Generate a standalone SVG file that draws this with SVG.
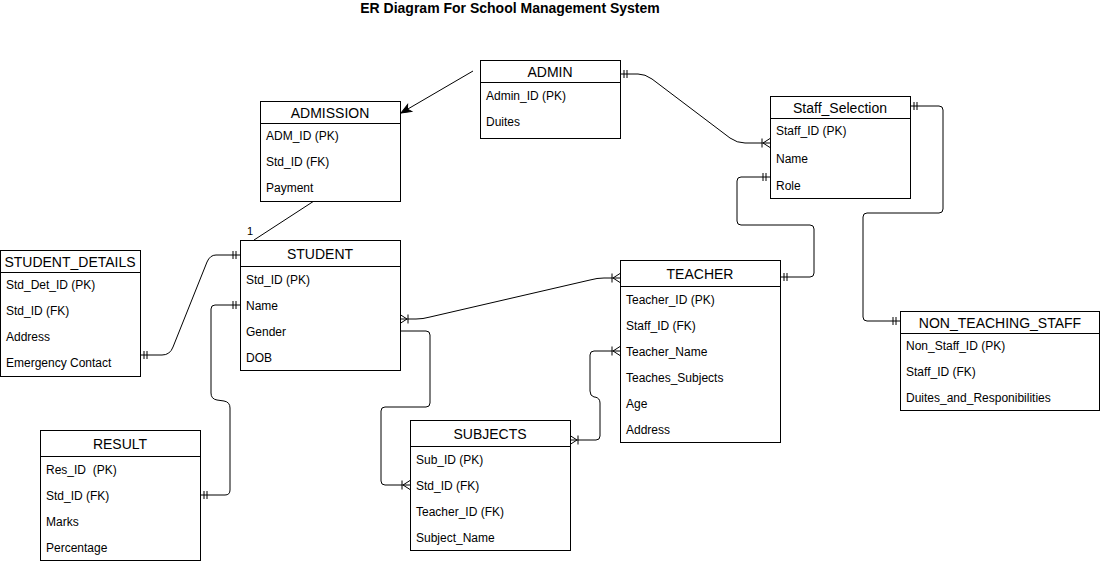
<svg xmlns="http://www.w3.org/2000/svg" width="1101" height="564" viewBox="0 0 1101 564">
<style>
.box{fill:#fff;stroke:#000;stroke-width:1}
.sep{stroke:#000;stroke-width:1}
.hd{font-family:"Liberation Sans",Arial,sans-serif;font-size:14px;fill:#000;text-anchor:middle}
.rw{font-family:"Liberation Sans",Arial,sans-serif;font-size:12px;fill:#000;white-space:pre}
.ttl{font-family:"Liberation Sans",Arial,sans-serif;font-size:14px;font-weight:bold;fill:#000;text-anchor:middle}
.cn{fill:none;stroke:#000;stroke-width:1}
.lbl{font-family:"Liberation Sans",Arial,sans-serif;font-size:11px;fill:#000}
</style>
<defs>
<marker id="one" viewBox="-12 -6 14 12" refX="0" refY="0" markerWidth="14" markerHeight="12" markerUnits="userSpaceOnUse" orient="auto-start-reverse" overflow="visible">
<path d="M-4,-4 L-4,4 M-7,-4 L-7,4" fill="none" stroke="#000" stroke-width="1"/>
</marker>
<marker id="many" viewBox="-12 -6 14 12" refX="0" refY="0" markerWidth="14" markerHeight="12" markerUnits="userSpaceOnUse" orient="auto-start-reverse" overflow="visible">
<path d="M0,-4.5 L-7,0 L0,4.5 M-8,-4.5 L-8,4.5" fill="none" stroke="#000" stroke-width="1"/>
</marker>
<marker id="arr" viewBox="-12 -6 14 12" refX="0" refY="0" markerWidth="14" markerHeight="12" markerUnits="userSpaceOnUse" orient="auto" overflow="visible">
<path d="M0,0 L-10,-4 L-7.5,0 L-10,4 Z" fill="#000" stroke="#000" stroke-width="1"/>
</marker>
</defs>
<rect width="1101" height="564" fill="#fff"/>
<text class="ttl" x="510" y="13">ER Diagram For School Management System</text>

<g id="connectors">
<path class="cn" d="M473,71 L401,113" marker-end="url(#arr)"/>
<path class="cn" d="M314,201 L254,240"/>
<text class="lbl" x="247" y="235">1</text>
<path class="cn" d="M620,74 L638,74 Q645,74 652,79 L730,138 Q737,143 745,143 L770,143" marker-start="url(#one)" marker-end="url(#many)"/>
<path class="cn" d="M770,177 L741,177 Q737,177 737,181 L737,221 Q737,225 741,225 L810,225 Q814,225 814,229 L814,273 Q814,277 810,277 L780,277" marker-start="url(#one)" marker-end="url(#one)"/>
<path class="cn" d="M910,106 L939,106 Q943,106 943,110 L943,209 Q943,213 939,213 L867,213 Q863,213 863,217 L863,317 Q863,321 867,321 L900,321" marker-start="url(#one)" marker-end="url(#one)"/>
<path class="cn" d="M240,255 L216,255 Q210,255 207,262 L173,347 Q170,355 162,355 L140,355" marker-start="url(#one)" marker-end="url(#one)"/>
<path class="cn" d="M240,305 L215,305 Q211,305 211,309 L211,393 Q211,399 217,400 L224,401 Q230,402 230,408 L230,490 Q230,495 225,495 L200,495" marker-start="url(#one)" marker-end="url(#one)"/>
<path class="cn" d="M400,319 L416,319 Q423,319 430,317 L590,280 Q597,278 604,278 L620,278" marker-start="url(#many)" marker-end="url(#many)"/>
<path class="cn" d="M400,331 L426,331 Q430,331 430,335 L430,403 Q430,407 426,407 L385,407 Q381,407 381,411 L381,481 Q381,485 385,485 L410,485" marker-end="url(#many)"/>
<path class="cn" d="M570,440 L596,440 Q600,440 600,436 L600,403 Q600,398 595,397 L594,397 Q590,396 590,391 L590,355 Q590,351 594,351 L620,351" marker-start="url(#many)" marker-end="url(#many)"/>
</g>

<g id="admin">
<rect class="box" x="480.5" y="60.5" width="140" height="78"/>
<line class="sep" x1="480.5" y1="82.5" x2="620.5" y2="82.5"/>
<text class="hd" x="550" y="77">ADMIN</text>
<text class="rw" x="486" y="100">Admin_ID (PK)</text>
<text class="rw" x="486" y="126">Duites</text>
</g>

<g id="admission">
<rect class="box" x="260.5" y="101.5" width="140" height="100"/>
<line class="sep" x1="260.5" y1="123.5" x2="400.5" y2="123.5"/>
<text class="hd" x="330" y="118">ADMISSION</text>
<text class="rw" x="266" y="140">ADM_ID (PK)</text>
<text class="rw" x="266" y="166">Std_ID (FK)</text>
<text class="rw" x="266" y="192">Payment</text>
</g>

<g id="staff_selection">
<rect class="box" x="770.5" y="96.5" width="140" height="102"/>
<line class="sep" x1="770.5" y1="118.5" x2="910.5" y2="118.5"/>
<text class="hd" x="840" y="113">Staff_Selection</text>
<text class="rw" x="776" y="135">Staff_ID (PK)</text>
<text class="rw" x="776" y="163">Name</text>
<text class="rw" x="776" y="190">Role</text>
</g>

<g id="student">
<rect class="box" x="240.5" y="240.5" width="160" height="130"/>
<line class="sep" x1="240.5" y1="266.5" x2="400.5" y2="266.5"/>
<text class="hd" x="320" y="259">STUDENT</text>
<text class="rw" x="246" y="284">Std_ID (PK)</text>
<text class="rw" x="246" y="310">Name</text>
<text class="rw" x="246" y="336">Gender</text>
<text class="rw" x="246" y="362">DOB</text>
</g>

<g id="student_details">
<rect class="box" x="0.5" y="250.5" width="140" height="126"/>
<line class="sep" x1="0.5" y1="272.5" x2="140.5" y2="272.5"/>
<text class="hd" x="70" y="267">STUDENT_DETAILS</text>
<text class="rw" x="6" y="289">Std_Det_ID (PK)</text>
<text class="rw" x="6" y="315">Std_ID (FK)</text>
<text class="rw" x="6" y="341">Address</text>
<text class="rw" x="6" y="367">Emergency Contact</text>
</g>

<g id="teacher">
<rect class="box" x="620.5" y="260.5" width="160" height="182"/>
<line class="sep" x1="620.5" y1="286.5" x2="780.5" y2="286.5"/>
<text class="hd" x="700" y="279">TEACHER</text>
<text class="rw" x="626" y="304">Teacher_ID (PK)</text>
<text class="rw" x="626" y="330">Staff_ID (FK)</text>
<text class="rw" x="626" y="356">Teacher_Name</text>
<text class="rw" x="626" y="382">Teaches_Subjects</text>
<text class="rw" x="626" y="408">Age</text>
<text class="rw" x="626" y="434">Address</text>
</g>

<g id="non_teaching_staff">
<rect class="box" x="900.5" y="311.5" width="199" height="99"/>
<line class="sep" x1="900.5" y1="333.5" x2="1099.5" y2="333.5"/>
<text class="hd" x="1000" y="328">NON_TEACHING_STAFF</text>
<text class="rw" x="906" y="350">Non_Staff_ID (PK)</text>
<text class="rw" x="906" y="376">Staff_ID (FK)</text>
<text class="rw" x="906" y="402">Duites_and_Responibilities</text>
</g>

<g id="result">
<rect class="box" x="40.5" y="430.5" width="160" height="130"/>
<line class="sep" x1="40.5" y1="456.5" x2="200.5" y2="456.5"/>
<text class="hd" x="120" y="449">RESULT</text>
<text class="rw" x="46" y="474">Res_ID  (PK)</text>
<text class="rw" x="46" y="500">Std_ID (FK)</text>
<text class="rw" x="46" y="526">Marks</text>
<text class="rw" x="46" y="552">Percentage</text>
</g>

<g id="subjects">
<rect class="box" x="410.5" y="420.5" width="160" height="130"/>
<line class="sep" x1="410.5" y1="446.5" x2="570.5" y2="446.5"/>
<text class="hd" x="490" y="439">SUBJECTS</text>
<text class="rw" x="416" y="464">Sub_ID (PK)</text>
<text class="rw" x="416" y="490">Std_ID (FK)</text>
<text class="rw" x="416" y="516">Teacher_ID (FK)</text>
<text class="rw" x="416" y="542">Subject_Name</text>
</g>
</svg>
